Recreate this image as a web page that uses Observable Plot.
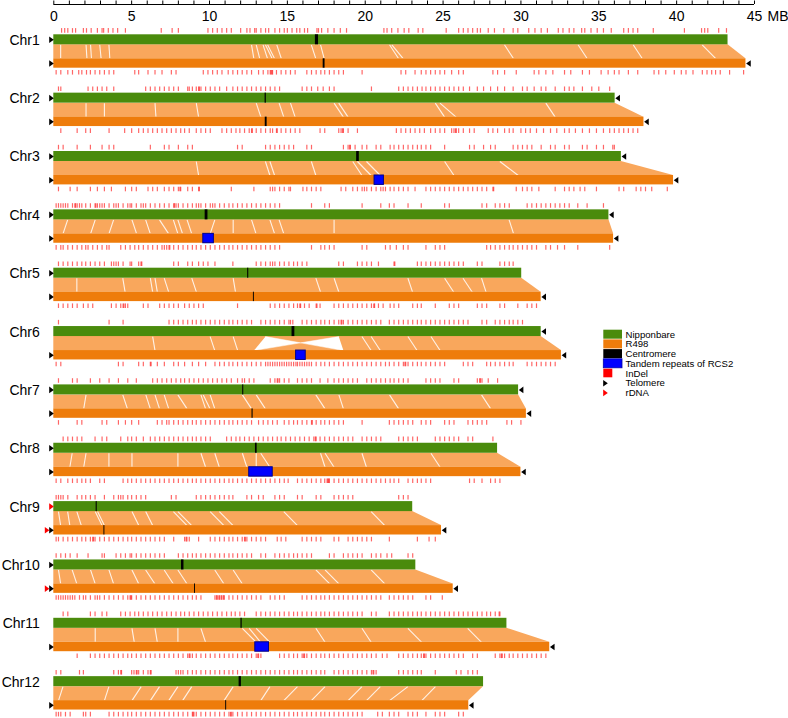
<!DOCTYPE html>
<html><head><meta charset="utf-8">
<script src="https://cdn.jsdelivr.net/npm/d3@7"></script>
<script src="https://cdn.jsdelivr.net/npm/@observablehq/plot@0.6"></script>
<style>body{margin:0;background:#fff;}</style>
</head><body><div id="chart"></div>
<script>
// ---------------- data (MB) ----------------
const chroms = ["Chr1","Chr2","Chr3","Chr4","Chr5","Chr6","Chr7","Chr8","Chr9","Chr10","Chr11","Chr12"];
const nipLen  = [43.3, 36.05, 36.45, 35.65, 30.05, 31.3, 29.85, 28.5, 23.05, 23.25, 29.1, 27.6];
const r498Len = [44.45, 37.9, 39.8, 35.95, 31.3, 32.6, 30.35, 30.0, 24.9, 25.65, 31.85, 26.65];
const nipCen  = [[16.8,17.0],[13.57,13.65],[19.45,19.62],[9.72,9.9],[12.45,12.52],[15.3,15.48],[12.13,12.2],[12.95,13.06],[2.72,2.79],[8.2,8.36],[12.02,12.1],[11.9,12.05]];
const r498Cen = [[17.3,17.42],[13.58,13.7],null,null,[12.82,12.88],null,[12.73,12.8],null,[3.22,3.28],[9.04,9.1],null,[11.04,11.1]];
const rcs2    = [null,null,[20.6,21.2],[9.6,10.28],null,[15.56,16.18],null,[12.55,14.06],null,null,[12.94,13.82],null];
const nipTelLeft   = [1,1,1,1,1,0,1,1,0,1,0,0];
const nipTelRight  = [0,1,1,1,0,1,1,0,0,0,0,0];
const r498TelLeft  = [1,1,1,1,1,1,1,1,1,1,1,1];
const r498TelRight = [1,1,1,1,1,1,1,1,1,1,1,1];
const nipRdnaLeft  = [0,0,0,0,0,0,0,0,1,0,0,0];
const r498RdnaLeft = [0,0,0,0,0,0,0,0,1,1,0,0];
// inversion (Nipponbare interval -> R498 interval, reversed)
const invChrom = ["Chr6"];
const invNip   = [[13.6, 18.3]];
const invR498  = [[12.85, 18.6]];
// prominent white gaps in synteny fan: [Nipponbare pos, R498 pos]
const gaps = [
 [[0.44,0.44],[2.07,2.13],[2.36,2.42],[2.95,3.04],[3.54,3.6],[12.7,12.85],[13.0,13.23],[13.44,13.73],[13.59,14.03],[13.73,14.18],[14.32,14.62],[16.54,16.83],[17.13,17.37],[21.56,22.15],[21.71,22.45],[28.94,29.53],[33.67,34.26],[37.21,37.8],[41.64,42.53]],
 [[2.07,2.07],[3.25,3.25],[6.5,6.56],[9.15,9.3],[13.0,13.3],[14.47,14.77],[15.2,15.5],[18.0,18.6],[18.3,18.9],[24.5,25.1],[24.8,25.84],[31.6,32.2]],
 [[9.15,9.3],[13.59,13.88],[13.88,14.18],[16.54,16.83],[19.2,19.79],[19.5,20.38],[20.08,20.97],[25.1,25.7],[28.65,29.83]],
 [[0.89,0.59],[2.66,2.36],[3.84,3.54],[5.02,5.32],[5.9,6.2],[6.79,7.38],[7.68,7.97],[7.97,8.27],[8.56,8.86],[10.34,10.04],[11.52,11.52],[12.7,12.99],[13.88,14.18],[14.47,14.77],[18.0,18.0],[29.24,29.53]],
 [[1.48,1.48],[4.43,4.58],[6.2,6.35],[6.5,6.65],[7.09,7.38],[8.86,9.16],[11.52,11.67],[16.83,17.13],[18.0,18.31],[22.74,23.04],[25.1,25.69],[26.28,26.88],[27.47,27.76]],
 [[6.35,6.5],[10.04,10.34],[11.52,11.81],[19.79,20.38],[20.38,20.97],[22.74,23.33],[24.22,24.81]],
 [[2.07,1.92],[4.43,4.73],[5.91,6.2],[6.5,6.79],[7.09,7.38],[7.97,8.56],[9.45,9.75],[9.6,10.04],[10.04,10.34],[12.11,12.7],[13.0,13.59],[16.83,17.42],[18.31,18.6],[21.56,22.15],[27.47,28.06]],
 [[1.18,1.03],[2.07,1.92],[3.54,3.54],[5.02,5.02],[7.97,7.97],[9.45,9.75],[10.34,10.63],[12.11,12.4],[13.0,13.0],[13.29,13.88],[17.13,17.42],[17.42,18.0],[19.79,20.08],[24.22,24.81]],
 [[0.3,0.44],[0.89,1.03],[1.48,1.77],[2.66,3.1],[2.81,3.25],[5.02,5.46],[5.9,6.35],[7.68,8.56],[7.97,8.86],[10.04,10.93],[10.63,11.52],[14.77,15.65],[20.38,21.26]],
 [[0.3,0.44],[1.18,1.48],[2.36,2.66],[3.54,3.84],[5.02,5.46],[5.9,6.5],[7.09,7.68],[7.97,8.56],[10.34,10.93],[11.52,12.11],[16.83,17.72],[17.42,18.31],[20.38,21.26]],
 [[2.66,2.66],[5.02,5.17],[6.5,6.65],[7.97,7.97],[9.45,9.75],[12.11,13.0],[12.55,13.29],[13.0,13.88],[16.83,17.42],[19.79,20.38],[22.74,23.63],[26.58,27.47]],
 [[0.59,0.3],[3.54,3.25],[5.61,5.02],[6.79,6.2],[7.97,7.38],[8.86,8.27],[11.52,10.93],[13.88,13.29],[15.65,14.77],[17.42,16.54],[19.79,18.9],[20.97,20.08],[22.74,21.56],[24.51,23.63]]
];
// InDel positions on Nipponbare (above) and R498 (below)
const indelNip = [
 [0.5,0.7,0.9,1.2,1.4,1.9,2.1,2.4,2.8,3.1,3.2,3.5,3.8,4.1,4.6,6.9,7.6,8.0,9.9,10.2,10.5,10.8,11.1,11.4,12.0,12.4,12.6,12.9,13.0,13.3,13.6,13.8,14.2,14.5,14.8,15.0,15.3,15.6,15.8,16.1,16.3,16.9,17.0,17.2,17.6,18.0,18.4,18.8,21.2,21.4,21.7,22.1,22.5,22.8,23.4,23.7,25.2,26.0,26.3,26.6,26.9,27.2,27.4,27.9,28.3,28.9,29.5,29.8,30.5,30.9,31.3,31.7,32.4,32.7,33.1,33.4,33.9,34.1,34.5,34.9,35.3,35.8,36.6,36.9,37.2,37.5,38.5,40.5,41.6,41.8,42.0,42.7,43.2],
 [0.3,0.45,2.2,2.5,2.8,3.1,3.4,3.85,5.9,6.2,6.5,6.8,7.1,7.4,7.7,8.0,8.6,8.7,8.9,9.15,9.3,9.35,9.45,9.75,10.05,10.35,10.65,11.1,11.5,11.8,12.1,12.4,12.7,13.0,13.3,13.6,13.9,14.2,14.5,15.95,16.25,16.55,16.95,17.3,17.7,18.0,20.4,22.15,22.45,22.75,23.05,23.35,23.65,23.9,24.2,24.5,24.8,25.1,25.4,25.7,26.0,26.3,26.7,27.2,27.6,28.05,28.5,28.95,29.5,30.1,30.4,30.85,31.3,31.6,32.2,32.8,33.1,33.4,33.95,34.55,35.0,35.7],
 [0.3,0.6,1.5,2.35,3.1,3.55,3.85,6.2,7.1,7.4,8.0,8.6,8.9,11.8,12.1,13.6,13.9,14.2,14.5,14.8,15.1,15.4,16.25,16.55,18.6,18.9,19.0,19.05,19.35,19.8,20.1,20.7,21.0,21.6,21.85,22.15,22.45,22.75,23.05,23.35,23.6,23.9,24.2,25.1,26.7,27.0,27.6,28.05,28.35,29.5,29.8,30.1,30.4,30.7,31.3,31.9,32.2,32.8,33.1,33.95,34.25,34.85,35.3,35.9,36.0],
 [0.15,0.3,0.45,0.6,0.75,0.9,1.2,1.35,1.4,1.5,1.65,1.8,2.05,2.35,2.65,2.7,2.8,2.95,3.1,3.25,3.55,3.85,4.0,4.15,4.45,4.75,4.9,5.0,5.3,5.6,5.75,5.9,6.2,6.5,6.8,7.1,7.4,7.7,7.75,7.85,8.0,8.3,8.6,8.9,9.15,9.3,9.45,9.75,10.05,10.2,10.35,10.65,10.95,11.25,11.5,11.8,12.1,12.4,12.7,13.0,13.3,13.6,13.9,14.2,14.5,16.55,17.4,17.7,19.8,21.0,21.55,21.85,22.75,23.6,25.1,25.4,27.5,27.8,28.35,28.65,28.95,29.25,30.4,30.7,31.0,31.3,31.6,31.9,32.2,32.5,32.8,33.1,33.65,34.25,35.3],
 [0.3,0.6,0.9,1.2,1.5,1.8,2.05,2.35,2.65,2.95,3.25,3.7,3.85,4.0,4.15,4.45,4.9,5.0,5.45,5.6,5.65,7.7,8.0,8.6,8.9,9.3,9.6,9.9,10.35,11.5,13.0,13.3,13.6,13.9,14.05,14.2,14.5,14.8,15.1,15.4,15.65,15.95,16.25,18.3,18.6,19.5,19.8,20.1,20.4,20.85,21.85,21.9,23.35,23.6,23.9,24.2,24.5,24.8,25.1,25.4,25.7,26.0,26.3,27.2,27.5,28.65,28.95,29.25,29.5],
 [0.3,3.55,4.45,7.4,7.7,8.0,8.3,8.6,8.9,9.15,9.45,9.75,10.05,10.35,10.65,10.95,11.25,11.5,11.8,12.1,12.4,12.7,13.3,13.6,13.9,14.2,14.5,14.8,15.1,15.2,15.35,15.95,16.25,16.55,16.85,17.15,17.4,17.7,18.0,18.3,18.45,18.5,18.6,18.9,19.2,19.5,19.8,20.1,20.4,20.7,21.0,21.55,21.85,22.15,22.45,22.75,23.05,23.35,23.6,23.9,24.2,24.5,24.8,25.1,25.4,25.7,26.0,26.3,26.6,27.5,27.8,28.35,28.65,28.95,29.25,29.5,29.8,30.1],
 [0.3,1.2,1.5,2.35,2.95,3.55,4.15,4.75,5.3,6.35,6.65,6.95,7.25,7.55,7.85,8.15,8.4,8.7,9.0,9.3,9.6,9.9,10.2,10.5,10.8,11.1,11.4,11.8,12.1,12.25,12.55,12.85,13.9,14.2,14.35,14.4,14.5,14.8,15.1,15.65,15.95,16.25,16.55,17.1,17.6,18.0,18.3,18.6,18.9,19.2,19.5,20.1,20.4,20.7,21.0,21.3,21.6,21.85,22.15,22.45,22.75,23.9,24.2,24.5,24.8,25.7,26.0,27.2,27.35,27.4,27.5,27.9,28.5],
 [0.6,0.9,1.2,1.5,1.8,2.65,3.1,3.4,4.3,4.75,5.0,5.3,5.75,6.2,6.5,6.8,7.1,7.4,7.7,8.0,8.3,8.6,8.9,9.15,9.45,9.75,10.05,11.1,11.4,11.7,11.95,12.25,12.55,12.85,13.15,13.45,13.75,14.05,14.35,14.6,14.9,15.2,15.5,15.8,16.1,16.4,16.7,16.8,16.85,17.1,17.4,17.7,18.0,18.3,18.6,18.9,19.2,19.8,20.1,20.4,20.7,21.0,22.15,22.45,22.75,23.05,23.35,24.5,24.8,25.1,25.4,25.7,26.0,26.6,26.9,28.2],
 [0.15,0.3,0.45,0.6,0.9,1.5,1.8,2.05,2.35,2.65,3.25,3.85,4.15,4.3,4.45,4.75,5.0,5.3,5.6,5.9,7.55,7.85,9.15,9.45,9.75,10.05,10.35,10.65,10.95,11.25,11.5,12.4,12.7,13.15,13.45,14.2,14.5,14.8,15.65,15.95,16.85,17.15,18.0,18.3,18.6,18.9,19.2,22.15,22.45,22.75],
 [0.15,0.45,0.75,1.05,1.5,2.2,3.1,3.25,4.0,4.3,4.6,4.9,5.0,5.3,5.6,5.9,6.2,6.5,6.8,7.1,8.0,8.3,8.6,8.9,9.15,9.45,9.75,10.05,10.35,10.65,10.95,11.25,11.5,11.8,12.1,12.4,12.7,13.3,13.6,14.2,14.5,14.8,15.1,15.4,15.65,15.95,16.25,16.55,17.7,18.0,18.6,18.9,19.2,19.5,19.8,20.4,20.7,21.0,21.4,21.7,22.75,23.05],
 [0.6,0.9,2.35,2.65,3.1,3.4,4.3,4.6,4.9,5.2,5.45,5.75,6.05,6.35,6.65,6.95,7.25,7.55,7.85,8.15,8.4,8.7,9.0,9.3,9.6,9.9,10.2,10.5,10.8,11.1,11.4,11.65,11.95,12.25,13.0,13.3,13.6,13.9,14.2,14.5,14.8,15.1,15.4,15.65,15.95,16.25,16.55,16.85,17.15,17.4,17.7,18.0,18.3,18.6,18.9,19.2,19.5,19.8,20.4,20.7,21.55,21.85,22.15,22.45,22.75,23.05,23.35,23.6,23.9,24.2,24.5,24.8,25.1,25.4,25.7,26.0,26.3,26.6,26.9,27.2,27.5,27.8,28.05,28.35,28.6,28.65],
 [0.15,0.45,1.65,1.9,3.85,4.15,4.3,4.35,5.0,5.15,5.3,5.35,5.45,5.75,6.05,6.2,6.25,7.85,8.0,8.15,8.3,8.6,8.9,9.15,9.45,9.75,10.05,10.35,10.65,10.95,11.25,11.5,11.8,12.1,12.4,12.7,13.0,13.3,13.6,13.9,14.2,14.5,14.8,15.1,15.4,15.65,15.95,16.25,16.55,16.85,17.15,17.4,18.0,18.3,18.6,18.9,19.2,19.5,19.8,20.1,20.4,20.5,20.55,20.7,22.15,22.45,22.75,23.05,23.35,23.6,24.5,25.85,26.15,26.6,26.9,27.2]
];
const indelR498 = [
 [0.15,0.45,0.9,1.2,1.6,1.8,2.1,2.35,2.65,2.95,3.25,3.55,3.85,5.2,5.45,6.05,6.5,6.95,7.55,7.85,9.6,9.9,10.2,10.5,10.8,11.2,11.5,11.8,12.1,12.4,12.7,13.15,13.45,13.75,13.9,13.95,14.0,14.05,14.3,14.6,14.9,15.2,15.5,16.25,16.55,16.85,17.15,17.4,17.7,18.0,18.3,18.6,19.8,22.3,22.6,23.2,23.6,23.9,24.2,24.5,24.8,25.1,25.55,26.0,26.3,28.2,28.5,28.95,29.7,30.85,31.15,31.6,32.05,32.8,33.2,33.95,34.4,35.15,35.6,36.0,36.3,36.9,37.5,38.55,38.85,39.3,39.85,40.3,40.6,41.05,41.65,41.95,42.25,42.5,42.8,43.4,44.3],
 [0.45,1.5,2.05,2.35,3.55,4.55,5.0,5.45,5.75,6.05,6.35,6.65,6.95,7.25,7.55,7.85,8.15,8.4,8.7,9.15,9.45,9.75,10.05,10.8,11.1,11.4,11.7,11.95,12.25,12.55,12.7,12.75,13.0,13.3,13.6,13.9,14.05,14.3,14.35,14.6,14.9,15.2,15.5,15.8,17.1,17.4,18.3,18.45,18.55,18.6,18.9,19.5,22.0,22.3,22.6,22.9,23.2,23.5,23.8,24.2,24.5,24.8,25.1,25.55,25.7,25.8,25.85,26.0,26.3,26.7,27.0,27.9,28.2,28.5,28.95,29.25,29.5,30.0,30.3,30.6,31.0,31.45,31.9,32.3,32.8,33.1,33.5,33.95,34.4,34.85,35.3,35.7,36.0,36.3,36.6,36.9,37.2,37.5],
 [0.3,1.05,1.5,2.35,2.8,3.25,3.7,4.6,5.0,5.3,6.05,6.35,6.65,7.1,7.4,7.7,8.0,8.1,8.15,8.6,8.9,9.3,9.35,11.4,12.85,13.9,14.05,14.2,14.5,14.8,15.1,15.2,16.0,16.25,16.55,16.85,17.15,18.45,18.75,19.2,19.5,19.8,19.95,20.1,20.4,20.7,21.0,21.15,21.3,21.6,21.85,22.15,22.45,22.75,23.2,23.9,24.2,24.5,24.8,25.1,25.4,25.7,26.0,26.3,26.6,26.9,27.2,27.5,27.8,28.2,28.25,29.7,30.1,30.4,30.7,31.15,32.2,32.8,33.1,33.4,33.8,34.1,34.85,36.3,36.6,37.4,37.7,38.0,38.4,39.4],
 [0.15,0.45,0.6,0.9,1.2,1.5,1.8,2.05,2.2,2.5,2.8,3.1,3.4,3.55,4.3,4.6,4.9,5.2,5.45,5.75,6.05,6.35,6.65,6.95,7.1,7.25,7.4,7.45,7.7,8.0,8.3,8.6,8.9,9.15,9.45,9.75,10.05,10.35,10.65,10.95,11.25,11.5,11.8,12.1,12.4,12.7,13.0,13.3,13.6,13.9,14.2,14.5,16.55,17.15,17.4,17.7,18.0,19.8,20.1,21.3,21.6,22.0,22.45,22.75,23.9,24.5,24.8,25.1,27.8,28.05,28.35,28.65,28.95,29.25,29.5,29.8,30.1,30.4,30.7,31.0,31.6,31.9,32.35,32.8,33.65,35.7],
 [0.3,0.6,0.9,1.2,1.5,1.9,2.2,2.5,3.7,4.0,4.3,4.45,4.5,4.6,4.75,5.75,6.05,6.8,7.1,7.4,7.7,8.0,8.4,8.7,9.0,9.3,9.6,11.8,13.9,14.2,14.5,14.8,15.1,15.4,15.65,15.8,15.85,16.1,16.4,16.85,16.9,17.1,18.0,18.3,18.6,18.9,19.2,19.5,19.8,20.1,20.4,20.55,20.6,20.85,21.15,21.6,21.85,22.15,23.05,23.35,23.6,24.5,25.4,25.7,26.0,27.2,27.5,27.8,28.65,28.95,29.8,30.4,30.7,31.0],
 [0.15,0.45,4.15,4.45,5.45,5.75,6.2,6.25,6.65,7.1,7.7,8.0,8.4,8.9,9.3,9.75,10.35,10.65,10.95,11.25,11.5,11.8,12.1,12.4,12.7,13.0,13.3,13.6,13.75,13.9,14.05,14.2,14.35,14.5,14.65,14.8,14.95,15.1,15.25,15.4,15.55,15.65,15.8,15.95,16.1,16.25,16.4,16.55,16.85,17.15,17.4,17.7,18.0,18.3,18.6,18.9,19.2,19.5,19.8,20.1,20.4,20.7,21.0,21.3,21.55,21.85,22.15,22.45,22.55,22.6,22.75,23.05,23.35,23.6,23.9,24.2,24.5,24.8,25.1,26.3,26.6,26.9,27.8,28.05,28.35,28.65,28.95,29.25,29.5,30.4,30.7,31.0,31.3,31.6,31.9,32.2],
 [0.3,1.5,1.8,3.1,3.4,4.15,4.6,5.0,5.45,6.65,6.95,7.25,7.4,7.7,8.0,8.3,8.6,8.9,9.15,9.45,9.75,10.05,10.35,10.65,10.95,11.25,11.5,11.8,12.1,12.4,12.7,13.15,13.45,13.75,14.05,14.35,14.8,15.1,15.4,15.65,15.95,16.25,16.55,16.6,16.85,17.15,17.4,17.7,18.0,18.3,18.6,19.8,21.55,21.85,22.15,22.45,22.75,23.05,23.6,23.9,24.2,25.1,25.4,25.7,26.6,26.9,27.2,27.5,27.8,29.1,29.4,30.0],
 [0.15,0.45,0.9,1.2,1.5,1.8,2.05,2.35,2.95,3.25,4.45,4.75,5.0,5.3,5.6,5.9,6.2,6.5,6.8,7.1,7.4,7.7,8.0,8.3,8.6,8.9,9.15,9.45,9.75,10.05,10.35,10.65,10.95,11.25,11.5,11.8,12.1,12.4,12.7,13.0,13.3,13.6,13.9,14.2,14.5,14.8,15.05,15.65,15.95,16.25,16.55,16.85,17.15,17.4,17.55,17.6,17.65,17.7,18.0,18.3,18.6,18.9,19.2,19.5,19.8,20.1,20.4,20.7,21.0,21.3,21.6,21.85,22.15,22.75,23.05,23.35,23.6,23.9,24.2,26.7,27.0,27.5,28.05,28.35,28.65],
 [0.15,0.3,0.6,0.9,1.2,1.5,1.8,2.05,2.35,2.5,2.55,2.65,2.95,3.25,3.55,3.85,4.15,4.45,4.75,5.0,5.3,5.6,5.9,6.2,6.5,6.8,7.1,7.7,8.4,8.5,8.55,8.7,9.3,10.05,10.35,10.65,10.95,11.25,11.5,11.8,12.1,12.25,12.3,12.4,12.7,13.0,13.3,13.6,14.35,14.6,14.9,15.95,16.25,16.55,16.85,17.15,18.0,18.3,18.9,19.2,19.5,19.8,20.1,20.4,21.55,23.35,24.1,24.5],
 [0.15,0.3,0.45,0.6,0.75,0.9,1.05,1.2,1.35,1.65,1.9,2.05,2.35,2.65,2.8,2.95,3.25,3.55,3.85,4.15,4.45,4.75,4.9,4.95,5.0,5.3,5.6,5.9,6.2,6.5,6.8,7.1,7.4,7.7,8.0,8.3,8.6,8.9,9.15,9.45,10.35,10.45,10.5,10.6,10.65,10.75,10.8,10.9,10.95,11.25,11.5,11.8,12.1,12.4,12.7,13.0,13.3,13.9,14.2,14.5,14.8,15.95,16.25,16.55,16.85,17.15,17.4,17.7,18.0,18.3,18.6,18.9,19.2,19.5,19.8,20.1,20.4,20.7,21.0,21.55,21.85,22.15,22.45,22.75,23.05,23.9,24.2,24.95],
 [1.5,2.35,2.65,2.95,3.25,3.55,3.85,4.15,4.45,4.75,5.0,5.3,5.6,5.9,6.2,6.5,6.8,7.1,7.4,7.7,8.0,8.3,8.6,8.7,8.75,8.9,9.15,9.45,9.75,10.05,10.35,10.65,10.95,11.25,11.5,11.8,12.1,12.4,12.7,13.0,13.1,13.15,13.3,14.5,14.8,15.1,15.4,15.65,15.95,16.05,16.1,16.25,16.55,16.85,17.15,17.4,17.7,18.0,18.3,18.6,18.9,19.2,19.5,19.8,20.1,20.4,20.7,21.1,21.4,22.15,22.45,22.75,23.05,23.35,23.6,23.75,23.8,23.9,24.2,24.5,24.8,25.1,25.4,25.7,26.0,26.3,26.9,27.2,28.35,28.65,28.75,28.8,28.95,29.25,29.5,29.8,30.1,30.4,30.7,31.0,31.3,31.6],
 [0.15,0.3,0.45,0.75,1.05,1.9,2.05,2.35,3.55,3.85,4.15,4.45,4.75,5.0,5.3,5.6,5.9,6.2,6.5,6.8,7.1,7.4,7.7,8.0,8.3,8.6,8.9,8.95,9.0,9.15,9.45,9.75,10.05,10.35,10.65,10.95,11.25,11.35,11.4,11.5,11.8,12.1,12.4,12.7,13.0,13.3,13.6,13.9,14.2,14.5,14.8,15.1,15.4,15.65,15.95,16.25,16.55,16.85,17.15,17.4,17.7,18.0,18.3,18.6,18.9,19.2,19.5,19.8,20.8,21.1,21.55,21.85,22.15,22.75,23.05,23.35,23.9,24.5,24.8,25.1,26.0,26.3]
];
// axis ticks
const majorTicks = [0,5,10,15,20,25,30,35,40,45];
const minorTicks = d3.range(0, 46, 1);
const legendLabels = ["Nipponbare","R498","Centromere","Tandem repeats of RCS2","InDel","Telomere","rDNA"];

// ---------------- colours & layout ----------------
const C = {nip:"#4a8b0c", r498:"#ee7c0b", fan:"#f9a75c", cen:"#000000", rcs:"#0000ff", indel:"#ff0000"};
const X0 = 53.3, X45 = 754;
const pxPerMB = (X45 - X0) / 45;
const px2mb = p => (p - X0) / pxPerMB;
const rowTop = i => 34.3 + 58.35 * i;      // top of Nipponbare bar
const G = i => ({tickT1: rowTop(i)-6.2, tickT2: rowTop(i)-1.6, g1: rowTop(i), g2: rowTop(i)+10,
                 o1: rowTop(i)+24, o2: rowTop(i)+33.4, tickB1: rowTop(i)+35.7, tickB2: rowTop(i)+40.3});

// build tables
const bars = [], fan = [], gapLinks = [], ticks = [], cens = [], blues = [], wedges = [], tels = [];
chroms.forEach((c, i) => {
  const g = G(i);
  bars.push({c, x2: nipLen[i], y1: g.g1, y2: g.g2, fill: C.nip});
  bars.push({c, x2: r498Len[i], y1: g.o1, y2: g.o2, fill: C.r498});
  fan.push({c, y: g.g2, x1: 0, x2: nipLen[i]});
  fan.push({c, y: g.o1, x1: 0, x2: r498Len[i]});
  gaps[i].forEach(([a, b]) => gapLinks.push({x1: a, x2: b, y1: g.g2, y2: g.o1}));
  indelNip[i].forEach(x => ticks.push({x, y1: g.tickT1, y2: g.tickT2}));
  indelR498[i].forEach(x => ticks.push({x, y1: g.tickB1, y2: g.tickB2}));
  cens.push({x1: nipCen[i][0], x2: nipCen[i][1], y1: g.g1, y2: g.g2});
  if (r498Cen[i]) cens.push({x1: r498Cen[i][0], x2: r498Cen[i][1], y1: g.o1, y2: g.o2});
  if (rcs2[i]) blues.push({x1: rcs2[i][0], x2: rcs2[i][1], y1: g.o1, y2: g.o2});
  const gy = (g.g1 + g.g2) / 2, oy = (g.o1 + g.o2) / 2;
  if (nipTelLeft[i])  tels.push({x: 0, y: gy, side: "L", col: "black", outer: false});
  if (nipRdnaLeft[i]) tels.push({x: 0, y: gy, side: "L", col: "red", outer: !!nipTelLeft[i]});
  if (r498TelLeft[i]) tels.push({x: 0, y: oy, side: "L", col: "black", outer: false});
  if (r498RdnaLeft[i]) tels.push({x: 0, y: oy, side: "L", col: "red", outer: !!r498TelLeft[i]});
  if (nipTelRight[i]) tels.push({x: nipLen[i], y: gy, side: "R", col: "black"});
  if (r498TelRight[i]) tels.push({x: r498Len[i], y: oy, side: "R", col: "black"});
});
invChrom.forEach((c, k) => {
  const i = chroms.indexOf(c), g = G(i);
  const [p1, p2] = invNip[k], [q1, q2] = invR498[k];
  const t = (p2 - p1) / ((q2 - p1) - (q1 - p2));
  const xm = p1 + (q2 - p1) * t, ym = g.g2 + (g.o1 - g.g2) * t;
  wedges.push({id: k+"a", x: p1, y: g.g2}, {id: k+"a", x: xm, y: ym}, {id: k+"a", x: q1, y: g.o1});
  wedges.push({id: k+"b", x: p2, y: g.g2}, {id: k+"b", x: xm, y: ym}, {id: k+"b", x: q2, y: g.o1});
});

const triR = {draw(ctx) { ctx.moveTo(-2.2, -3.3); ctx.lineTo(2.4, 0); ctx.lineTo(-2.2, 3.3); ctx.closePath(); }};
const triL = {draw(ctx) { ctx.moveTo(2.2, -3.3); ctx.lineTo(-2.4, 0); ctx.lineTo(2.2, 3.3); ctx.closePath(); }};

// legend
const LX = px2mb(603.3), LW = px2mb(622) - px2mb(603.3), LT = px2mb(625);
const legRows = [334.2, 343.9, 353.6, 363.3, 373.0, 382.7, 392.4];
const legRects = [
  {x1: LX, x2: LX + LW, y1: legRows[0]-4.5, y2: legRows[0]+4.5, fill: C.nip, stroke: "none"},
  {x1: LX, x2: LX + LW, y1: legRows[1]-4.5, y2: legRows[1]+4.5, fill: C.r498, stroke: "none"},
  {x1: LX, x2: LX + LW, y1: legRows[2]-4.5, y2: legRows[2]+4.5, fill: C.cen, stroke: "none"},
  {x1: LX, x2: LX + LW, y1: legRows[3]-4.5, y2: legRows[3]+4.5, fill: C.rcs, stroke: "#0000aa"},
  {x1: LX, x2: px2mb(612.3), y1: legRows[4]-4.3, y2: legRows[4]+4.3, fill: C.indel, stroke: "none"}
];
const legText = legendLabels.map((t, k) => ({t, y: legRows[k]}));
const legTri = [{y: legRows[5], col: "black"}, {y: legRows[6], col: "red"}];

const chart = Plot.plot({
  width: 788, height: 718,
  marginTop: 0, marginRight: 0, marginBottom: 0, marginLeft: 0,
  x: {domain: [0, 45], range: [X0, X45], axis: null},
  y: {type: "identity", axis: null},
  style: {fontFamily: "'Liberation Sans', Arial, Helvetica, sans-serif", background: "white"},
  marks: [
    // axis
    Plot.ruleY([4], {x1: 0, x2: 45, stroke: "black", strokeWidth: 1}),
    Plot.ruleX(minorTicks, {x: d => d, y1: 0.5, y2: 4, stroke: "black", strokeWidth: 1}),
    Plot.text(majorTicks, {x: d => d, y: 16, text: d => String(d), fontSize: 14, fill: "black"}),
    Plot.text(["MB"], {x: 45, y: 16, text: d => d, dx: 13, textAnchor: "start", fontSize: 14, fill: "black"}),
    // synteny fan
    Plot.areaX(fan, {y: "y", x1: "x1", x2: "x2", z: "c", fill: C.fan}),
    Plot.line(wedges, {x: "x", y: "y", z: "id", fill: "white", stroke: "white", strokeWidth: 0.5}),
    Plot.link(gapLinks, {x1: "x1", x2: "x2", y1: "y1", y2: "y2", stroke: "white", strokeWidth: 1.1, strokeOpacity: 0.85}),
    // chromosome bars
    Plot.rect(bars, {x1: 0, x2: "x2", y1: "y1", y2: "y2", fill: "fill"}),
    Plot.rect(cens, {x1: "x1", x2: "x2", y1: "y1", y2: "y2", fill: C.cen}),
    Plot.rect(blues, {x1: "x1", x2: "x2", y1: "y1", y2: "y2", fill: C.rcs, stroke: "#00008a", strokeWidth: 1}),
    // InDels
    Plot.ruleX(ticks, {x: "x", y1: "y1", y2: "y2", stroke: C.indel, strokeWidth: 1.2, strokeOpacity: 0.6}),
    // telomeres / rDNA
    Plot.dot(tels.filter(d => d.side === "L" && d.col === "black"), {x: "x", y: "y", symbol: triR, fill: "black", stroke: "none", dx: -2.4}),
    Plot.dot(tels.filter(d => d.side === "L" && d.col === "red" && d.outer), {x: "x", y: "y", symbol: triR, fill: "#ff0000", stroke: "none", dx: -6.8}),
    Plot.dot(tels.filter(d => d.side === "L" && d.col === "red" && !d.outer), {x: "x", y: "y", symbol: triR, fill: "#ff0000", stroke: "none", dx: -2.4}),
    Plot.dot(tels.filter(d => d.side === "R"), {x: "x", y: "y", symbol: triL, fill: "black", stroke: "none", dx: 2.6}),
    // chromosome labels
    Plot.text(chroms, {x: 0, y: (d, i) => rowTop(i) + 5.5, text: d => d, textAnchor: "end", dx: -14, fontSize: 14, fill: "black"}),
    // legend
    Plot.rect(legRects, {x1: "x1", x2: "x2", y1: "y1", y2: "y2", fill: "fill", stroke: "stroke", strokeWidth: 0.8}),
    Plot.dot(legTri, {x: LX, y: "y", symbol: triR, fill: "col", stroke: "none", dx: 1.6}),
    Plot.text(legText, {x: LT, y: "y", text: "t", textAnchor: "start", fontSize: 9.6, fill: "black"})
  ]
});
document.getElementById("chart").appendChild(chart);
</script>
</body></html>
